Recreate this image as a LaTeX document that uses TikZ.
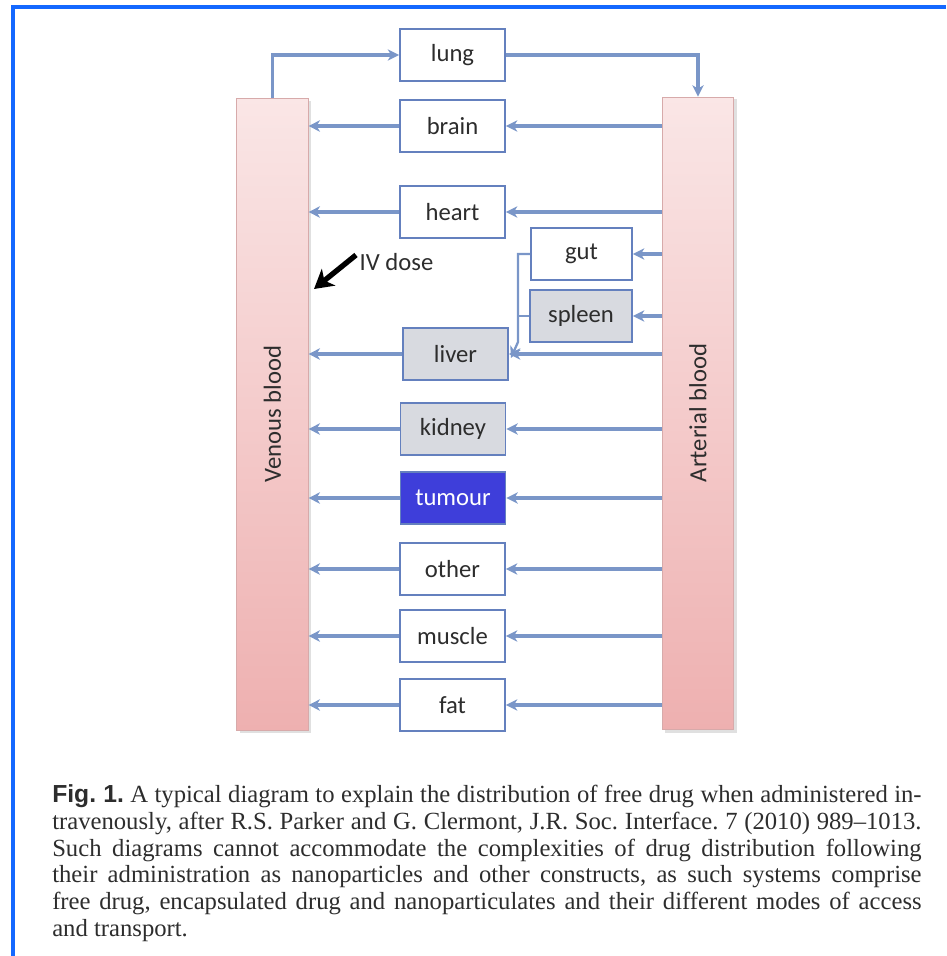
\documentclass[tikz,border=0pt]{standalone}
\usepackage{fontspec}
\setmainfont{Liberation Serif}
\newfontfamily\organfont{Carlito}
\newfontfamily\figfont{Liberation Sans}
\usetikzlibrary{arrows.meta}
\definecolor{framec}{RGB}{20,104,255}
\definecolor{arrowc}{RGB}{122,150,200}
\definecolor{boxc}{RGB}{100,128,190}
\definecolor{grayfill}{RGB}{216,218,224}
\definecolor{tumourc}{RGB}{62,62,218}
\definecolor{pinktop}{RGB}{250,230,230}
\definecolor{pinkbot}{RGB}{238,176,176}
\definecolor{pinkedge}{RGB}{215,170,170}
\definecolor{txtc}{RGB}{45,45,45}
\tikzset{
  lbl/.style={font=\organfont\fontsize{18.5}{22}\selectfont, text=txtc},
  organ/.style={lbl, draw=boxc, line width=1.4pt, fill=white, minimum width=78.75pt,
    minimum height=39pt, inner sep=0pt},
  grayorgan/.style={organ, fill=grayfill},
  blood/.style={draw=pinkedge, line width=0.6pt, top color=pinktop, bottom color=pinkbot,
    minimum width=53.5pt, minimum height=474pt, inner sep=0pt},
  flow/.style={draw=arrowc, line width=2.5pt, -{Stealth[length=8.5pt,width=8.5pt,inset=2.5pt]}},
  plainline/.style={draw=arrowc, line width=2.5pt},
}
\begin{document}
\begin{tikzpicture}[x=0.75pt,y=-0.75pt]
\useasboundingbox (0,0) rectangle (946,956);
% frame
\draw[framec, line width=2.4pt] (13,956) -- (13,7) -- (946,7);
% shadows
\fill[black!12] (240,101) rectangle (311,733);
\fill[black!12] (665,99) rectangle (737,733);
% blood columns
\node[blood] (ven) at (272.5,414) {};
\node[blood] (art) at (698,413) {};
\node[rotate=90, lbl] (venl) at (ven.center) {Venous blood};
\node[rotate=90, lbl] (artl) at (art.center) {Arterial blood};
% organs
\node[organ] (lung) at (452.5,55) {lung};
\node[organ] (brain) at (452.5,126) {brain};
\node[organ] (heart) at (452.5,212) {heart};
\node[organ, minimum width=75.75pt] (gut) at (581.5,254) {gut};
\node[grayorgan, minimum width=76.5pt] (spleen) at (581,316) {spleen};
\node[grayorgan] (liver) at (455.5,354) {liver};
\node[grayorgan] (kidney) at (453,429) {kidney};
\node[organ, fill=tumourc, text=white] (tumour) at (453,498) {tumour};
\node[organ] (other) at (452.5,569) {other};
\node[organ] (muscle) at (452.5,636) {muscle};
\node[organ] (fat) at (452.5,705) {fat};
% lung loop
\draw[flow] (ven.north) |- (lung.west);
\draw[flow] (lung.east) -| (art.north);
% organ flows
\foreach \o in {brain,heart,liver,kidney,tumour,other,muscle,fat}{
  \draw[flow] (art.west |- \o.east) -- (\o.east);
  \draw[flow] (\o.west) -- (ven.east |- \o.west);
}
\draw[flow] (art.west |- gut.east) -- (gut.east);
\draw[flow] (art.west |- spleen.east) -- (spleen.east);
% gut/spleen to liver
\coordinate (gs) at (518,342);
\draw[flow, line width=1.7pt] (gut.west) -| (gs) -- ([xshift=1.5pt,yshift=-3pt]liver.east);
\draw[plainline, line width=1.7pt] (spleen.west) -- (spleen.west -| gs);
% IV dose
\coordinate (ivs) at (356,255);
\coordinate (ive) at (314,289);
\draw[black, line width=4pt, -{Stealth[length=14pt,width=16pt,inset=4pt]}] (ivs) -- (ive);
\node[anchor=west, lbl] (ivl) at (355,262) {IV dose};
% caption
\node[anchor=north west, align=left, inner sep=0pt, text=txtc,
  font=\fontsize{18.5}{20.2}\selectfont\frenchspacing] (cap) at (52,784) {%
\makebox[652pt][s]{{\figfont\bfseries Fig. 1.} A typical diagram to explain the distribution of free drug when administered in-}\\
\makebox[652pt][s]{travenously, after R.S. Parker and G. Clermont, J.R. Soc. Interface. 7 (2010) 989--1013.}\\
\makebox[652pt][s]{Such diagrams cannot accommodate the complexities of drug distribution following}\\
\makebox[652pt][s]{their administration as nanoparticles and other constructs, as such systems comprise}\\
\makebox[652pt][s]{free drug, encapsulated drug and nanoparticulates and their different modes of access}\\
and transport.};
\end{tikzpicture}
\end{document}
